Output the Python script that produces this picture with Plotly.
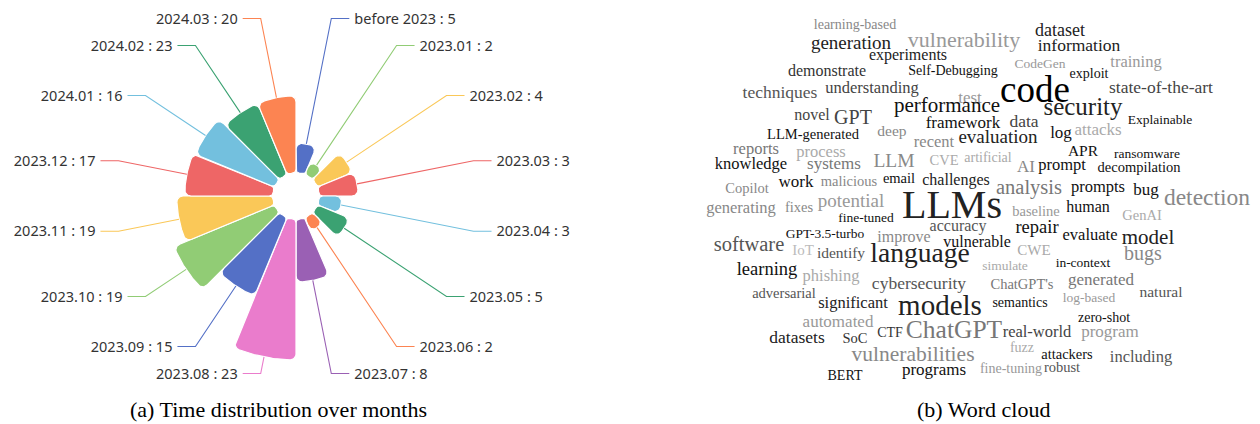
import math
import plotly.graph_objects as go

# ---------------- data: rose chart ----------------
months = ["before 2023", "2023.01", "2023.02", "2023.03", "2023.04", "2023.05",
          "2023.06", "2023.07", "2023.08", "2023.09", "2023.10", "2023.11",
          "2023.12", "2024.01", "2024.02", "2024.03"]
label_counts = [5, 2, 4, 3, 3, 5, 2, 8, 23, 15, 19, 19, 17, 16, 23, 20]
# bar lengths as drawn in the picture (radial units)
bar_lengths = [4.9, 2.3, 6.2, 6.4, 3.75, 5.7, 2.45, 10.3, 23.0, 13.9, 17.8,
               15.7, 14.4, 14.0, 12.6, 12.6]
palette = ["#5470c6", "#91cc75", "#fac858", "#ee6666", "#73c0de", "#3ba272",
           "#fc8452", "#9a60b4", "#ea7ccc"]

# ---------------- data: word cloud ----------------
words = ["learning-based", "vulnerability", "dataset", "generation", "information",
         "experiments", "demonstrate", "Self-Debugging", "CodeGen", "training",
         "exploit", "techniques", "understanding", "test", "code",
         "state-of-the-art", "performance", "security", "novel", "GPT",
         "framework", "data", "Explainable", "LLM-generated", "deep",
         "attacks", "log", "reports", "process", "recent",
         "evaluation", "APR", "ransomware", "knowledge", "systems",
         "LLM", "CVE", "artificial", "AI", "prompt",
         "decompilation", "Copilot", "work", "malicious", "email",
         "challenges", "analysis", "prompts", "bug", "detection",
         "generating", "fixes", "potential", "LLMs", "baseline",
         "human", "GenAI", "fine-tuned", "GPT-3.5-turbo", "improve",
         "accuracy", "repair", "evaluate", "model", "software",
         "IoT", "identify", "language", "vulnerable", "CWE",
         "bugs", "learning", "phishing", "simulate", "in-context",
         "cybersecurity", "ChatGPT's", "generated", "adversarial", "significant",
         "models", "semantics", "log-based", "natural", "automated",
         "zero-shot", "datasets", "SoC", "CTF", "ChatGPT",
         "real-world", "program", "vulnerabilities", "fuzz", "attackers",
         "including", "BERT", "programs", "fine-tuning", "robust"]
word_weights = [14, 22, 18, 19, 17.5,
                16, 16, 14, 13.5, 16.5,
                14, 17.5, 16.5, 17, 37,
                17.5, 21, 25, 16, 20,
                17, 17.5, 13.5, 14.5, 15.5,
                17, 17, 16.5, 16.5, 16.5,
                19, 15.5, 13.5, 16.5, 17,
                19.5, 14.5, 14, 17, 16.5,
                14.5, 14.5, 17, 14.5, 14.5,
                16, 20.5, 16.5, 17, 23.5,
                16.5, 14.5, 19, 40, 14.5,
                16, 14.5, 13.5, 13.5, 16,
                16, 18.5, 16.5, 21, 20.5,
                15, 15.5, 27.5, 16, 15,
                20, 18.5, 16.5, 13.5, 13.5,
                17.5, 14.5, 17, 14.5, 16.5,
                29, 14, 13.5, 15.5, 17,
                14, 17.5, 14.5, 14, 25.5,
                16.5, 17, 21.5, 14, 14.5,
                16.5, 14, 17, 14, 14.5]
word_shades = ["#888", "#999", "#222", "#222", "#222",
               "#222", "#333", "#111", "#999", "#999",
               "#111", "#555", "#444", "#999", "#000",
               "#444", "#111", "#222", "#444", "#444",
               "#111", "#444", "#111", "#111", "#888",
               "#aaa", "#111", "#777", "#aaa", "#888",
               "#222", "#111", "#111", "#111", "#777",
               "#888", "#aaa", "#aaa", "#888", "#111",
               "#111", "#888", "#111", "#888", "#111",
               "#222", "#777", "#111", "#111", "#888",
               "#888", "#888", "#999", "#222", "#999",
               "#111", "#aaa", "#111", "#111", "#888",
               "#555", "#111", "#111", "#222", "#555",
               "#bbb", "#555", "#222", "#111", "#aaa",
               "#888", "#111", "#aaa", "#aaa", "#111",
               "#555", "#777", "#777", "#555", "#222",
               "#222", "#111", "#999", "#555", "#999",
               "#111", "#222", "#333", "#333", "#777",
               "#444", "#999", "#888", "#aaa", "#111",
               "#555", "#111", "#111", "#999", "#555"]
# word cloud layout (pixel frame): centre x and text baseline y
word_cx = [855, 964, 1060, 851, 1079,
           908, 827, 953, 1040, 1136,
           1089, 780, 872, 970, 1035,
           1161, 947, 1083, 812, 853,
           963, 1024, 1160, 813, 892,
           1098, 1061, 756, 821, 934,
           998, 1083, 1147, 751, 834,
           894, 944, 988, 1026, 1062,
           1139, 747, 796, 849, 899,
           956, 1029, 1098, 1146, 1207,
           741, 799, 851, 952, 1036,
           1088, 1142, 866, 825, 904,
           958, 1037, 1090, 1148, 749,
           803, 841, 920, 977, 1034,
           1143, 767, 831, 1005, 1083,
           919, 1022, 1101, 784, 853,
           940, 1020, 1089, 1161, 838,
           1104, 797, 855, 890, 954,
           1037, 1110, 913, 1022, 1067,
           1141, 845, 934, 1011, 1062]
word_base = [29, 47, 36, 49, 51,
             60, 76, 75, 68, 67,
             78, 98, 93, 103, 102,
             93, 112, 115, 120, 124,
             128, 127, 124, 139, 136,
             135, 138, 154, 157, 147,
             143, 156, 158, 169, 169,
             167, 165, 162, 172, 170,
             172, 193, 187, 186, 183,
             185, 194, 192, 195, 205,
             213, 212, 207, 218, 216,
             212, 220, 222, 238, 242,
             231, 233, 240, 244, 251,
             255, 258, 262, 247, 255,
             260, 275, 281, 270, 267,
             289, 289, 285, 298, 308,
             315, 307, 302, 297, 327,
             322, 343, 343, 337, 338,
             337, 337, 361, 352, 359,
             362, 380, 375, 373, 372]

# ---------------- geometry settings ----------------
W, H = 1260, 424           # page size (reference pixels)
OFF = 8                    # default page margin around the plot div
WF, HF = W - OFF, H - OFF  # figure size
CX, CY = 296, 196          # rose centre (page pixels)
INNER = 23                 # hole radius
UNIT = 6.13                # pixels per radial unit
LABEL_R = 181              # elbow radius of leader lines
ARM = 18                   # horizontal arm length
N = len(months)
STEP = 2 * math.pi / N
SERIF = "Liberation Serif, Tinos, Times New Roman, Times, DejaVu Serif, serif"


def arc(cx, cy, rad, p0, p1, k):
    return [(cx + rad * math.cos(p0 + (p1 - p0) * t / k),
             cy + rad * math.sin(p0 + (p1 - p0) * t / k)) for t in range(k + 1)]


def sector(a1, a2, r0, r1):
    span = r1 - r0
    co = max(0.5, min(6.0, span / 2 - 0.3, 0.15 * r1))
    ci = max(0.5, min(4.0, span / 2 - 0.3))
    do = math.asin(co / (r1 - co))
    di = math.asin(ci / (r0 + ci))
    pts = []
    pts += arc(0, 0, r1, a1 + do, a2 - do, 30)
    c = (r1 - co)
    pts += arc(c * math.cos(a2 - do), c * math.sin(a2 - do), co, a2 - do, a2 + math.pi / 2, 10)
    c = (r0 + ci)
    pts += arc(c * math.cos(a2 - di), c * math.sin(a2 - di), ci, a2 + math.pi / 2, a2 - di + math.pi, 8)
    pts += arc(0, 0, r0, a2 - di, a1 + di, 10)
    pts += arc(c * math.cos(a1 + di), c * math.sin(a1 + di), ci, a1 + di + math.pi, a1 + 1.5 * math.pi, 8)
    c = (r1 - co)
    pts += arc(c * math.cos(a1 + do), c * math.sin(a1 + do), co, a1 - math.pi / 2, a1 + do, 10)
    pts.append(pts[0])
    return [p[0] for p in pts], [p[1] for p in pts]


fig = go.Figure()

lab_x, lab_y, lab_txt, lab_pos = [], [], [], []
for i, (m, cnt, ln) in enumerate(zip(months, label_counts, bar_lengths)):
    col = palette[i % len(palette)]
    a_hi = math.pi / 2 - i * STEP
    a_lo = math.pi / 2 - (i + 1) * STEP
    r1 = INNER + ln * UNIT
    xs, ys = sector(a_lo, a_hi, INNER, r1)
    fig.add_trace(go.Scatter(x=xs, y=ys, mode="lines", fill="toself",
                             fillcolor=col, line=dict(color="white", width=1.2),
                             hoverinfo="skip", xaxis="x", yaxis="y"))
    am = (a_lo + a_hi) / 2
    ex, ey = LABEL_R * math.cos(am), LABEL_R * math.sin(am)
    right = math.cos(am) >= 0
    hx = ex + (ARM if right else -ARM)
    fig.add_trace(go.Scatter(x=[r1 * math.cos(am), ex, hx], y=[r1 * math.sin(am), ey, ey],
                             mode="lines", line=dict(color=col, width=1.1),
                             hoverinfo="skip", xaxis="x", yaxis="y"))
    lab_x.append(hx + (5 if right else -5))
    lab_y.append(ey - 1.5)
    lab_txt.append(f"{m} : {cnt}")
    lab_pos.append("middle right" if right else "middle left")

fig.add_trace(go.Scatter(x=lab_x, y=lab_y, mode="text", text=lab_txt,
                         textposition=lab_pos, cliponaxis=False,
                         textfont=dict(family="Noto Sans", size=14.5, color="#333"),
                         hoverinfo="skip", xaxis="x", yaxis="y"))

# word cloud
wy = [b - 0.25 * s for b, s in zip(word_base, word_weights)]
fig.add_trace(go.Scatter(x=word_cx, y=wy, mode="text", text=words,
                         textposition="middle center", cliponaxis=False,
                         textfont=dict(family=SERIF, size=word_weights,
                                       color=word_shades),
                         hoverinfo="skip", xaxis="x2", yaxis="y2"))


def px(xp):
    return (xp - OFF) / WF


def py(yp):
    return 1 - (yp - OFF) / HF


fig.update_layout(
    width=WF, height=HF, autosize=False,
    margin=dict(l=0, r=0, t=0, b=0),
    paper_bgcolor="white", plot_bgcolor="rgba(0,0,0,0)",
    showlegend=False,
    xaxis=dict(domain=[0, px(620)], range=[OFF - CX, 620 - CX], visible=False, fixedrange=True),
    yaxis=dict(domain=[0, 1], range=[CY - H, CY - OFF], visible=False, fixedrange=True),
    xaxis2=dict(domain=[px(640), 1], range=[640, W], visible=False, fixedrange=True, anchor="y2"),
    yaxis2=dict(domain=[0, 1], range=[H, OFF], visible=False, fixedrange=True, anchor="x2"),
    annotations=[
        dict(text="(a) Time distribution over months", x=px(278), y=py(409),
             xref="paper", yref="paper", xanchor="center", yanchor="middle",
             showarrow=False, font=dict(family=SERIF, size=22, color="black")),
        dict(text="(b) Word cloud", x=px(983), y=py(409),
             xref="paper", yref="paper", xanchor="center", yanchor="middle",
             showarrow=False, font=dict(family=SERIF, size=22, color="black")),
    ],
)

fig.write_html("out.html")
